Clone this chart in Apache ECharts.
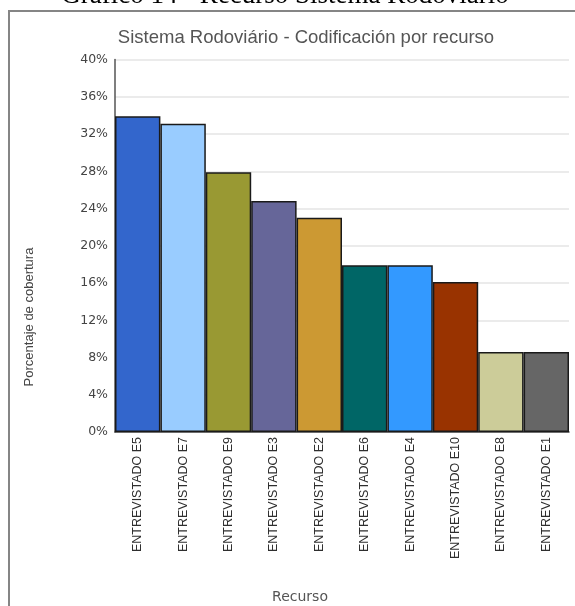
<!DOCTYPE html>
<html>
<head>
<meta charset="utf-8">
<script src="https://cdn.jsdelivr.net/npm/echarts@6/dist/echarts.min.js"></script>
<style>
  html, body { margin: 0; padding: 0; background: #fff; }
  #chart { width: 575px; height: 606px; }
</style>
</head>
<body>
<div id="chart"></div>
<script>
// Coverage per interviewee (percent)
const categories = [
  'ENTREVISTADO E5', 'ENTREVISTADO E7', 'ENTREVISTADO E9', 'ENTREVISTADO E3', 'ENTREVISTADO E2',
  'ENTREVISTADO E6', 'ENTREVISTADO E4', 'ENTREVISTADO E10', 'ENTREVISTADO E8', 'ENTREVISTADO E1'
];
const coverage = [33.9, 33.1, 27.9, 24.8, 23.0, 17.9, 17.9, 16.1, 8.6, 8.6];
const barColors = [
  '#3366cc', '#99ccff', '#999933', '#666699', '#cc9933',
  '#006666', '#3399ff', '#993300', '#cccc99', '#666666'
];
const yTicks = [0, 4, 8, 12, 16, 20, 24, 28, 32, 36, 40];

const chart = echarts.init(document.getElementById('chart'), null, { renderer: 'canvas' });

chart.setOption({
  animation: false,
  backgroundColor: '#ffffff',
  title: {
    text: 'Sistema Rodoviário - Codificación por recurso',
    left: 301,
    textAlign: 'center',
    top: 23,
    textStyle: { fontFamily: 'Liberation Sans, Arial, sans-serif', fontSize: 18.5, fontWeight: 'normal', color: '#555555' }
  },
  graphic: [
    {
      type: 'text',
      silent: true,
      z: 1,
      style: {
        x: 285, y: 9,
        text: 'Gráfico 14 - Recurso Sistema Rodoviário',
        font: '27px "Liberation Serif", "Times New Roman", serif',
        fill: '#000000',
        textAlign: 'center',
        textVerticalAlign: 'bottom'
      }
    },
    {
      type: 'rect',
      silent: true,
      z: 2,
      shape: { x: 9, y: 11, width: 640, height: 700 },
      style: { fill: 'none', stroke: '#858585', lineWidth: 2 }
    },
    {
      type: 'text',
      silent: true,
      style: {
        x: 300, y: 597,
        text: 'Recurso',
        font: '14px "DejaVu Sans", Verdana, sans-serif',
        fill: '#555555',
        textAlign: 'center',
        textVerticalAlign: 'middle'
      }
    },
    {
      type: 'text',
      silent: true,
      rotation: Math.PI / 2,
      x: 29, y: 317,
      style: {
        x: 0, y: 0,
        text: 'Porcentaje de cobertura',
        font: '13px "Liberation Sans", Arial, sans-serif',
        fill: '#444444',
        textAlign: 'center',
        textVerticalAlign: 'middle'
      }
    }
  ],
  grid: { left: 115, right: 6, top: 59.5, bottom: 174, containLabel: false },
  xAxis: {
    type: 'category',
    data: categories,
    axisLine: { show: true, lineStyle: { color: '#444', width: 1.5 } },
    axisTick: { show: false },
    axisLabel: {
      rotate: 90,
      interval: 0,
      margin: 5,
      fontFamily: 'Liberation Sans, Arial, sans-serif',
      fontSize: 12.5,
      color: '#2e2e2e'
    }
  },
  yAxis: {
    type: 'value',
    min: yTicks[0],
    max: yTicks[yTicks.length - 1],
    interval: 4,
    axisLine: { show: true, lineStyle: { color: '#555', width: 1.5 } },
    axisTick: { show: false },
    splitLine: { show: true, lineStyle: { color: '#e4e4e4', width: 1.5 } },
    axisLabel: {
      formatter: '{value}%',
      margin: 7,
      fontFamily: '"DejaVu Sans", Verdana, sans-serif',
      fontSize: 12.5,
      color: '#444444'
    }
  },
  series: [{
    type: 'bar',
    data: coverage.map((v, i) => ({ value: v, itemStyle: { color: barColors[i] } })),
    barCategoryGap: 0,
    itemStyle: { borderColor: '#1a1a1a', borderWidth: 1.5 }
  }]
});
</script>
</body>
</html>
